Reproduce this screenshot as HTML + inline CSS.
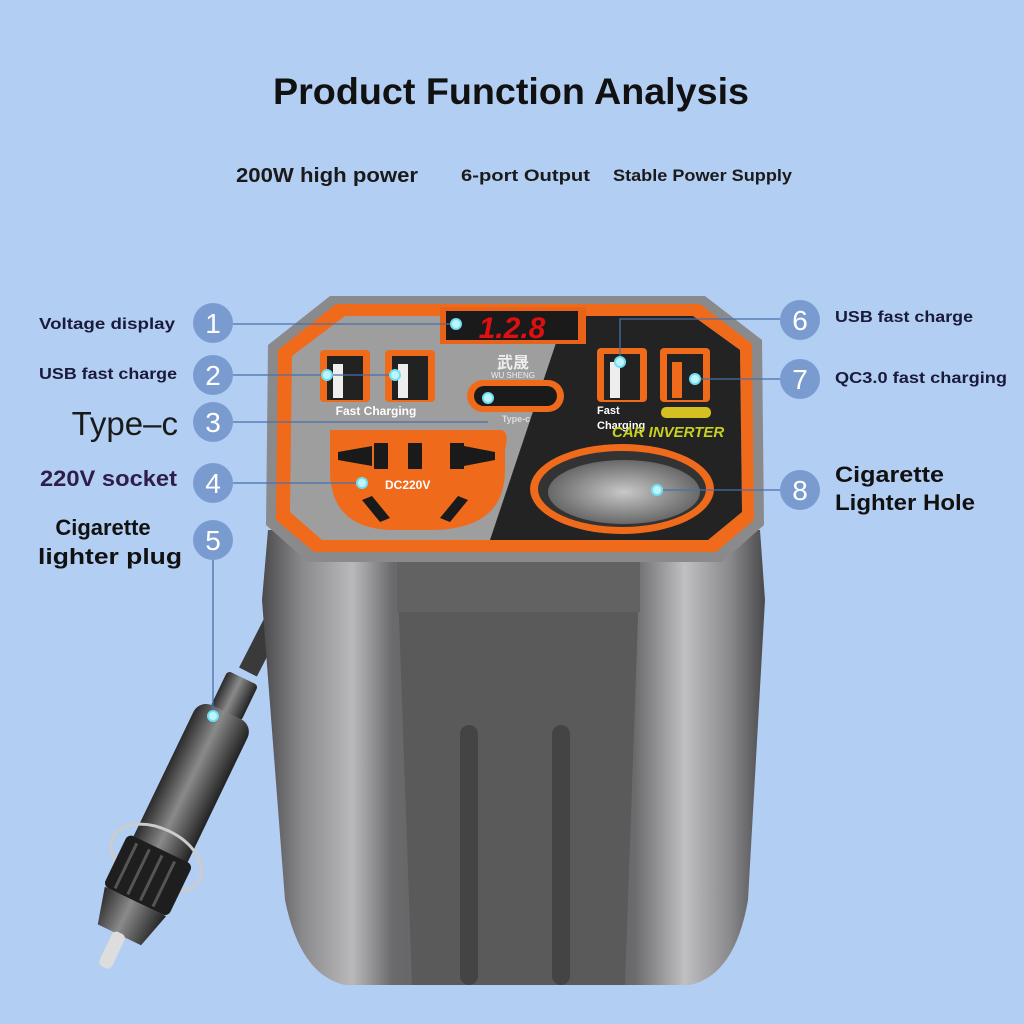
<!DOCTYPE html>
<html><head><meta charset="utf-8"><style>
html,body{margin:0;padding:0;background:#b3cef3;}
svg{display:block}
text{font-family:"Liberation Sans","Noto Sans CJK SC",sans-serif}
</style></head><body>
<svg width="1024" height="1024" viewBox="0 0 1024 1024" xmlns="http://www.w3.org/2000/svg">
<defs>
<linearGradient id="bodyg" x1="0" x2="1" y1="0" y2="0">
<stop offset="0" stop-color="#4a4a4c"/><stop offset="0.08" stop-color="#8a8a8c"/><stop offset="0.18" stop-color="#b9b9bb"/><stop offset="0.26" stop-color="#6a6a6c"/>
<stop offset="0.5" stop-color="#5a5a5a"/><stop offset="0.74" stop-color="#6a6a6c"/><stop offset="0.84" stop-color="#c0c0c2"/><stop offset="0.93" stop-color="#8a8a8c"/><stop offset="1" stop-color="#4a4a4c"/>
</linearGradient>
<linearGradient id="plugg" x1="0" x2="1">
<stop offset="0" stop-color="#2a2a2a"/><stop offset="0.45" stop-color="#8a8a8a"/><stop offset="1" stop-color="#222"/>
</linearGradient>
<radialGradient id="hole" cx="0.5" cy="0.5" r="0.6">
<stop offset="0" stop-color="#c8c8c8"/><stop offset="1" stop-color="#555"/>
</radialGradient>
</defs>
<rect width="1024" height="1024" fill="#b3cef3"/>
<text x="511" y="104" font-size="37" font-weight="bold" text-anchor="middle" fill="#111" textLength="476" lengthAdjust="spacingAndGlyphs">Product Function Analysis</text>
<text x="236" y="182" font-size="20" font-weight="bold" fill="#1a1a1a" textLength="182" lengthAdjust="spacingAndGlyphs">200W high power</text>
<text x="461" y="181" font-size="17" font-weight="bold" fill="#1a1a1a" textLength="129" lengthAdjust="spacingAndGlyphs">6-port Output</text>
<text x="613" y="181" font-size="17" font-weight="bold" fill="#1a1a1a" textLength="179" lengthAdjust="spacingAndGlyphs">Stable Power Supply</text>

<!-- cable and plug -->
<line x1="295" y1="580" x2="248" y2="672" stroke="#3a3a3a" stroke-width="20"/>
<g transform="translate(243,678) rotate(25.7)">
<rect x="-17" y="0" width="34" height="40" fill="url(#plugg)" rx="4"/>
<rect x="-30" y="38" width="60" height="170" fill="url(#plugg)" rx="14"/>
<ellipse cx="0" cy="200" rx="48" ry="30" fill="none" stroke="#ccc" stroke-width="3"/>
<rect x="-36" y="190" width="72" height="58" fill="#1e1e1e" rx="6"/>
<g stroke="#555" stroke-width="3"><line x1="-24" y1="195" x2="-24" y2="245"/><line x1="-10" y1="195" x2="-10" y2="245"/><line x1="4" y1="195" x2="4" y2="245"/><line x1="18" y1="195" x2="18" y2="245"/></g>
<path d="M-34 248 L34 248 L24 285 L-24 285 Z" fill="url(#plugg)"/>
<rect x="-7" y="283" width="14" height="38" fill="#ddd" rx="5"/>
</g>

<!-- body -->
<path d="M268 530 L262 600 L285 900 Q300 975 345 985 L690 985 Q735 975 748 900 L765 600 L760 530 Z" fill="url(#bodyg)"/>
<path d="M397 560 L640 560 L625 985 L412 985 Z" fill="#5a5a5a"/>
<rect x="397" y="560" width="243" height="52" fill="#626262"/>
<rect x="460" y="725" width="18" height="260" rx="9" fill="#444"/>
<rect x="552" y="725" width="18" height="260" rx="9" fill="#444"/>

<!-- top face -->
<path d="M330 296 L705 296 L762 340 L764 525 L722 562 L308 562 L266 525 L268 345 Z" fill="#8a8a8c"/>
<path d="M336 304 L700 304 L752 344 L754 520 L716 552 L314 552 L276 520 L278 350 Z" fill="#f06a1c"/>
<path d="M345 316 L693 316 L740 350 L742 512 L708 540 L322 540 L290 512 L292 356 Z" fill="#9e9e9e"/>
<path d="M565 316 L693 316 L740 350 L742 512 L708 540 L490 540 Z" fill="#232323"/>
<!-- display -->
<rect x="440" y="307" width="146" height="37" fill="#e8621a"/>
<rect x="446" y="311" width="132" height="29" fill="#1a1a1a"/>
<text x="512" y="338" font-size="30" font-weight="bold" font-style="italic" text-anchor="middle" fill="#e01010">1.2.8</text>
<text x="513" y="368" font-size="16" font-weight="bold" text-anchor="middle" fill="#eee">武晟</text>
<text x="513" y="378" font-size="8" text-anchor="middle" fill="#eee">WU SHENG</text>
<!-- USB -->
<rect x="320" y="350" width="50" height="52" rx="4" fill="#f06a1c"/><rect x="327" y="356" width="36" height="44" fill="#222"/><rect x="333" y="364" width="10" height="34" fill="#eee"/>
<rect x="385" y="350" width="50" height="52" rx="4" fill="#f06a1c"/><rect x="392" y="356" width="36" height="44" fill="#222"/><rect x="398" y="364" width="10" height="34" fill="#eee"/>
<text x="376" y="415" font-size="12" font-weight="bold" text-anchor="middle" fill="#fff">Fast Charging</text>
<rect x="467" y="380" width="97" height="32" rx="16" fill="#f06a1c"/><rect x="474" y="386" width="83" height="20" rx="10" fill="#1a1a1a"/>
<text x="516" y="422" font-size="9" font-weight="bold" text-anchor="middle" fill="#ddd">Type-c</text>
<rect x="597" y="348" width="50" height="54" rx="4" fill="#f06a1c"/><rect x="604" y="354" width="36" height="46" fill="#222"/><rect x="610" y="362" width="10" height="36" fill="#eee"/>
<rect x="660" y="348" width="50" height="54" rx="4" fill="#f06a1c"/><rect x="667" y="354" width="36" height="46" fill="#222"/><rect x="672" y="362" width="10" height="36" fill="#f06a1c"/>
<text x="597" y="414" font-size="11" font-weight="bold" fill="#fff">Fast</text>
<text x="597" y="429" font-size="11" font-weight="bold" fill="#fff">Charging</text>
<rect x="661" y="407" width="50" height="11" rx="5" fill="#d4c020"/>
<text x="612" y="437" font-size="15" font-weight="bold" font-style="italic" fill="#c8d020">CAR INVERTER</text>
<!-- socket -->
<path d="M330 430 L500 430 Q510 430 505 450 L505 470 Q505 530 430 530 L395 530 Q330 530 330 470 Z" fill="#f06a1c"/>
<path d="M338 452 L372 446 L372 466 L338 460 Z" fill="#1a1a1a"/>
<rect x="374" y="443" width="14" height="26" fill="#1a1a1a"/><rect x="408" y="443" width="14" height="26" fill="#1a1a1a"/><rect x="450" y="443" width="14" height="26" fill="#1a1a1a"/>
<path d="M464 446 L495 452 L495 460 L464 466 Z" fill="#1a1a1a"/>
<text x="385" y="489" font-size="12" font-weight="bold" fill="#fff">DC220V</text>
<path d="M362 500 L372 496 L390 518 L380 522 Z" fill="#1a1a1a"/><path d="M458 496 L468 500 L450 522 L440 518 Z" fill="#1a1a1a"/>
<!-- hole -->
<ellipse cx="622" cy="489" rx="92" ry="45" fill="#f06a1c"/>
<ellipse cx="622" cy="489" rx="84" ry="38" fill="#333"/>
<ellipse cx="624" cy="492" rx="76" ry="32" fill="url(#hole)"/>

<!-- leader lines -->
<g stroke="#4a6fa8" stroke-width="1.3" fill="none">
<line x1="233" y1="324" x2="456" y2="324"/>
<line x1="233" y1="375" x2="400" y2="375"/>
<line x1="233" y1="422" x2="488" y2="422"/>
<line x1="233" y1="483" x2="362" y2="483"/>
<line x1="213" y1="560" x2="213" y2="716"/>
<path d="M780 319 L620 319 L620 362"/>
<line x1="780" y1="379" x2="695" y2="379"/>
<line x1="780" y1="490" x2="657" y2="490"/>
</g>
<g fill="#bff4ff" stroke="#6fe0f0" stroke-width="2">
<circle cx="456" cy="324" r="5"/><circle cx="327" cy="375" r="5"/><circle cx="395" cy="375" r="5"/><circle cx="488" cy="398" r="5"/><circle cx="362" cy="483" r="5"/><circle cx="213" cy="716" r="5"/><circle cx="620" cy="362" r="5"/><circle cx="695" cy="379" r="5"/><circle cx="657" cy="490" r="5"/>
</g>
<!-- circles -->
<g fill="#7a9bd0">
<circle cx="213" cy="323" r="20"/><circle cx="213" cy="375" r="20"/><circle cx="213" cy="422" r="20"/><circle cx="213" cy="483" r="20"/><circle cx="213" cy="540" r="20"/>
<circle cx="800" cy="320" r="20"/><circle cx="800" cy="379" r="20"/><circle cx="800" cy="490" r="20"/>
</g>
<g font-size="28" fill="#fff" text-anchor="middle">
<text x="213" y="333">1</text><text x="213" y="385">2</text><text x="213" y="432">3</text><text x="213" y="493">4</text><text x="213" y="550">5</text>
<text x="800" y="330">6</text><text x="800" y="389">7</text><text x="800" y="500">8</text>
</g>
<!-- labels -->
<g font-weight="bold" fill="#1a1a3a">
<text x="175" y="329" font-size="16" text-anchor="end" textLength="136" lengthAdjust="spacingAndGlyphs">Voltage display</text>
<text x="177" y="379" font-size="16" text-anchor="end" textLength="138" lengthAdjust="spacingAndGlyphs">USB fast charge</text>
<text x="177" y="486" font-size="22" text-anchor="end" fill="#2d1e4a" textLength="137" lengthAdjust="spacingAndGlyphs">220V socket</text>
<text x="103" y="535" font-size="22" text-anchor="middle" fill="#111">Cigarette</text>
<text x="110" y="564" font-size="22" text-anchor="middle" fill="#111" textLength="144" lengthAdjust="spacingAndGlyphs">lighter plug</text>
<text x="835" y="322" font-size="16" textLength="138" lengthAdjust="spacingAndGlyphs">USB fast charge</text>
<text x="835" y="383" font-size="16" textLength="172" lengthAdjust="spacingAndGlyphs">QC3.0 fast charging</text>
<text x="835" y="482" font-size="22" fill="#111" textLength="109" lengthAdjust="spacingAndGlyphs">Cigarette</text>
<text x="835" y="510" font-size="22" fill="#111" textLength="140" lengthAdjust="spacingAndGlyphs">Lighter Hole</text>
</g>
<text x="178" y="435" font-size="33" text-anchor="end" fill="#1a1a1a">Type–c</text>
</svg>
</body></html>
